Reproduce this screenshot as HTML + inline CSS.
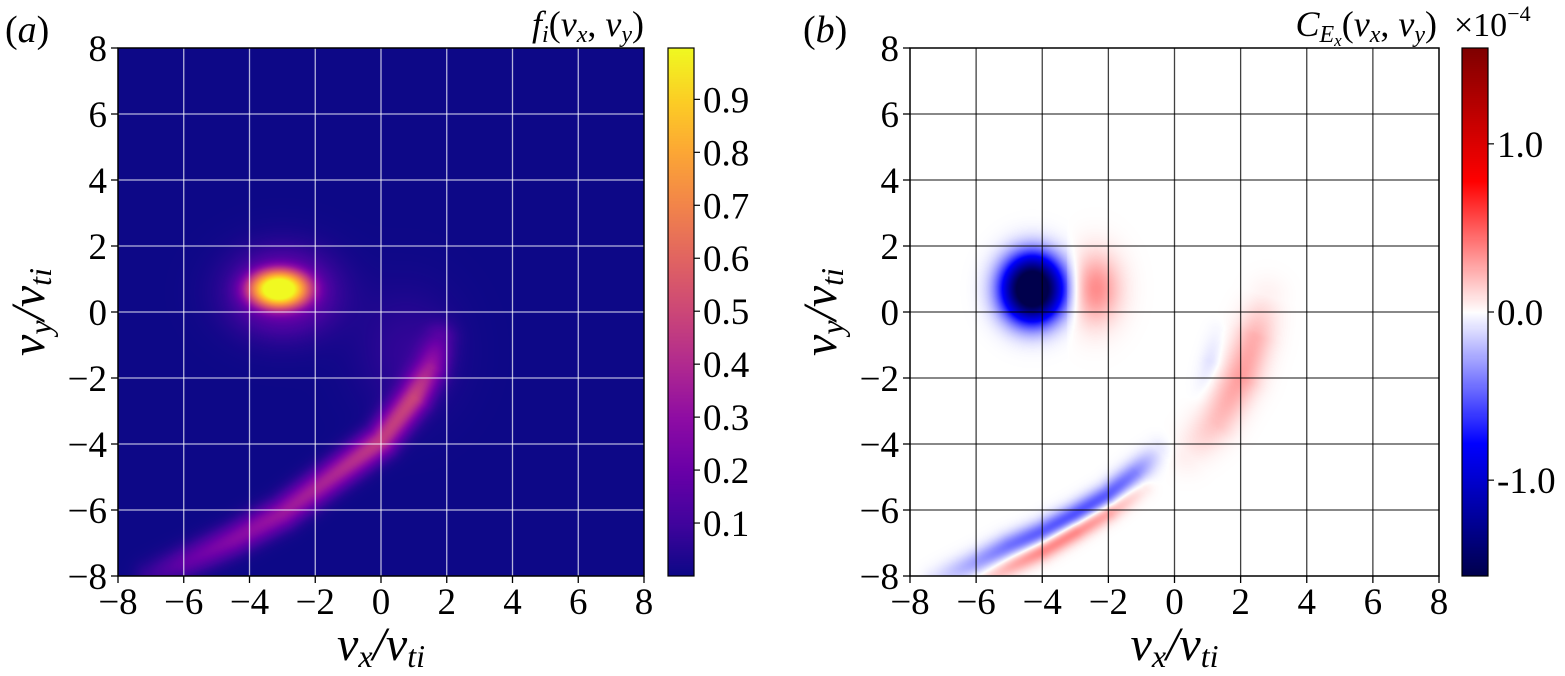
<!DOCTYPE html>
<html><head><meta charset="utf-8">
<style>
html,body{margin:0;padding:0;background:#fff;width:1565px;height:676px;overflow:hidden}
#wrap{position:relative;width:1565px;height:676px}
canvas{position:absolute}
svg{position:absolute;left:0;top:0}
text{font-family:"Liberation Serif",serif;fill:#000}
</style></head><body>
<div id="wrap">
<canvas id="ca" width="526" height="528" style="left:118px;top:48px"></canvas>
<canvas id="cb" width="529" height="528" style="left:910px;top:48px"></canvas>
<canvas id="cba" width="26" height="528" style="left:668px;top:48px"></canvas>
<canvas id="cbb" width="26" height="528" style="left:1462px;top:48px"></canvas>
<svg id="ov" width="1565" height="676"></svg>
</div>
<script>
// ---- data ----
const ticksXY = [-8,-6,-4,-2,0,2,4,6,8];
const cbTicksA = [0.1,0.2,0.3,0.4,0.5,0.6,0.7,0.8,0.9];
const cbTicksB = [1.0,0.0,-1.0];
const cbTickLabelsB = ["1.0","0.0","-1.0"];
// panel a blobs: [cx, cy, sx, sy, amp, power]
const blobsA = [[-3.1,0.7,1.0,0.62,0.7,1.6],[-3.15,0.7,0.55,0.35,0.2,1.0],[-3.0,0.6,1.5,1.2,0.28,1.0],[0.8,-1.2,1.5,1.8,0.07,1.0]];
// panel a arc vertices and amplitudes
const arcAx = [1.8,1.5,1.0,0.0,-1.5,-3.0,-4.5,-6.0,-7.0];
const arcAy = [-0.8,-1.7,-2.6,-3.9,-5.0,-6.1,-6.9,-7.6,-8.0];
const arcAv = [0.12,0.3,0.45,0.45,0.38,0.33,0.27,0.18,0.09];
// panel b blobs
const blobsB = [[-4.3,0.7,0.95,1.05,-1.9,1.2],[-2.4,0.7,0.75,1.05,0.36,1.0]];
const arcRx = [2.8,2.4,2.0,1.3,0.4];
const arcRy = [0.5,-0.8,-2.0,-3.3,-4.3];
const arcRv = [0.04,0.25,0.3,0.2,0.05];
const arcBlx = [1.3,1.1,0.8];
const arcBly = [-0.6,-1.5,-2.5];
const arcBlv = [-0.03,-0.1,-0.03];
const arcB2x = [-0.5,-1.2,-2.0,-3.0,-4.0,-5.0,-6.0,-7.2];
const arcB2y = [-4.2,-4.9,-5.6,-6.2,-6.7,-7.1,-7.6,-8.1];
const arcB2v = [-0.08,-0.4,-0.6,-0.65,-0.55,-0.45,-0.3,-0.1];
const arcR2x = [-1.0,-2.0,-3.0,-4.0,-5.0,-5.8];
const arcR2y = [-5.3,-6.0,-6.6,-7.2,-7.7,-8.1];
const arcR2v = [0.12,0.45,0.55,0.45,0.28,0.12];

const A = {x0:118,x1:644,y0:48,y1:576};
const B = {x0:910,x1:1439,y0:48,y1:576};
const sx=(p,v)=>p.x0+(v+8)/16*(p.x1-p.x0);
const sy=(p,v)=>p.y1-(v+8)/16*(p.y1-p.y0);

function blobVal(bl,x,y){let s=0;for(const b of bl){const r2=((x-b[0])/b[2])**2+((y-b[1])/b[3])**2;s+=b[4]*Math.exp(-Math.pow(r2,b[5]));}return s;}
function arcVal(xs,ys,vs,w,x,y){let best=0;for(let i=0;i<xs.length-1;i++){const ax=xs[i],ay=ys[i],bx=xs[i+1],by=ys[i+1];const dx=bx-ax,dy=by-ay;let t=((x-ax)*dx+(y-ay)*dy)/(dx*dx+dy*dy);t=Math.max(0,Math.min(1,t));const px=ax+t*dx,py=ay+t*dy;const d2=(x-px)**2+(y-py)**2;const a=vs[i]+(vs[i+1]-vs[i])*t;const v=a*Math.exp(-d2/(2*w*w));if(Math.abs(v)>Math.abs(best))best=v;}return best;}

const plasma=[[13,8,135],[65,4,157],[106,0,168],[143,13,164],[177,42,144],[204,71,120],[225,100,98],[242,132,75],[252,166,54],[252,206,37],[240,249,33]];
const seismic=[[0,0,76],[0,0,255],[255,255,255],[255,0,0],[128,0,0]];
function cmap(st,t){t=Math.max(0,Math.min(1,t));const n=st.length-1;const i=Math.min(n-1,Math.floor(t*n));const f=t*n-i;const a=st[i],b=st[i+1];return [a[0]+(b[0]-a[0])*f,a[1]+(b[1]-a[1])*f,a[2]+(b[2]-a[2])*f];}

function paint(id,p,fn,st,lo,hi){const c=document.getElementById(id);const g=c.getContext('2d');const W=c.width,H=c.height;const im=g.createImageData(W,H);for(let j=0;j<H;j++){const y=8-(j+0.5)/H*16;for(let i=0;i<W;i++){const x=-8+(i+0.5)/W*16;const v=fn(x,y);const col=cmap(st,(v-lo)/(hi-lo));const k=(j*W+i)*4;im.data[k]=col[0];im.data[k+1]=col[1];im.data[k+2]=col[2];im.data[k+3]=255;}}g.putImageData(im,0,0);}
paint('ca',A,(x,y)=>Math.min(1,0.003+blobVal(blobsA,x,y)+arcVal(arcAx,arcAy,arcAv,0.33,x,y)),plasma,0.003,0.999);
paint('cb',B,(x,y)=>{let v=blobVal(blobsB.slice(0,1),x,y);if(x>-3.25)v+=blobVal(blobsB.slice(1),x,y);v+=arcVal(arcRx,arcRy,arcRv,0.42,x,y)+arcVal(arcBlx,arcBly,arcBlv,0.22,x,y)+arcVal(arcB2x,arcB2y,arcB2v,0.26,x,y)+arcVal(arcR2x,arcR2y,arcR2v,0.22,x,y);return v;},seismic,-1.57,1.57);
function bar(id,st){const c=document.getElementById(id);const g=c.getContext('2d');for(let j=0;j<c.height;j++){const col=cmap(st,1-j/c.height);g.fillStyle=`rgb(${col[0]|0},${col[1]|0},${col[2]|0})`;g.fillRect(0,j,c.width,1);}}
bar('cba',plasma);bar('cbb',seismic);

const NS='http://www.w3.org/2000/svg';const ov=document.getElementById('ov');
function el(tag,at,txt){const e=document.createElementNS(NS,tag);for(const k in at)e.setAttribute(k,at[k]);if(txt!==undefined)e.innerHTML=txt;ov.appendChild(e);return e;}
function panel(p,gridCol,gridW,tag){
  ticksXY.forEach(v=>{
    if(v>-8&&v<8){
      const gx=el('line',{x1:sx(p,v),x2:sx(p,v),y1:p.y0,y2:p.y1,stroke:gridCol,'stroke-width':gridW});
      
      const gy=el('line',{x1:p.x0,x2:p.x1,y1:sy(p,v),y2:sy(p,v),stroke:gridCol,'stroke-width':gridW});
      
    }
    const lab=(v<0?'\u2212':'')+Math.abs(v);
    el('line',{x1:sx(p,v),x2:sx(p,v),y1:p.y1,y2:p.y1+7,stroke:'#000','stroke-width':1.3});
    const tx=el('text',{x:sx(p,v),y:p.y1+38,'font-size':37,'text-anchor':'middle'},lab);
    
    el('line',{x1:p.x0-7,x2:p.x0,y1:sy(p,v),y2:sy(p,v),stroke:'#000','stroke-width':1.3});
    const ty=el('text',{x:p.x0-11,y:sy(p,v)+13,'font-size':37,'text-anchor':'end'},lab);
    
  });
  const fr=el('rect',{x:p.x0,y:p.y0,width:p.x1-p.x0,height:p.y1-p.y0,fill:'none',stroke:'#000','stroke-width':1.5});
  
  const xl=el('text',{x:(p.x0+p.x1)/2,y:660,'font-size':48,'font-style':'italic','text-anchor':'middle'},'v<tspan font-size="32" dy="7">x</tspan><tspan dy="-7">/v</tspan><tspan font-size="32" dy="7">ti</tspan>');
  
  const yl=el('text',{x:0,y:0,'font-size':48,'font-style':'italic','text-anchor':'middle',transform:`translate(${p.x0-74},${(p.y0+p.y1)/2}) rotate(-90)`},'v<tspan font-size="32" dy="7">y</tspan><tspan dy="-7">/v</tspan><tspan font-size="32" dy="7">ti</tspan>');
  
}
panel(A,'rgba(255,255,255,0.7)',1.3,'panel-a');
panel(B,'rgba(0,0,0,0.75)',1.3,'panel-b');
el('rect',{x:668,y:48,width:26,height:528,fill:'none',stroke:'#000','stroke-width':1.2});
cbTicksA.forEach(v=>{const y=576-v/0.997*528;el('line',{x1:694,x2:700,y1:y,y2:y,stroke:'#000','stroke-width':1.2});
 const t=el('text',{x:703,y:y+13,'font-size':37},v.toFixed(1));});
el('rect',{x:1462,y:48,width:26,height:528,fill:'none',stroke:'#000','stroke-width':1.2});
cbTicksB.forEach((v,i)=>{const y=312-v/1.57*264;el('line',{x1:1488,x2:1494,y1:y,y2:y,stroke:'#000','stroke-width':1.2});
 const t=el('text',{x:1497,y:y+13,'font-size':37},cbTickLabelsB[i]);});
</script>
<svg width="1565" height="676" style="position:absolute;left:0;top:0;pointer-events:none">
<text x="5" y="42" font-size="38" font-family="Liberation Serif">(<tspan font-style="italic">a</tspan>)</text>
<text x="803" y="42" font-size="38" font-family="Liberation Serif">(<tspan font-style="italic">b</tspan>)</text>
<text x="644" y="36" font-size="36" font-family="Liberation Serif" text-anchor="end"><tspan font-style="italic">f</tspan><tspan font-size="24" dy="6" font-style="italic">i</tspan><tspan dy="-6">(</tspan><tspan font-style="italic">v</tspan><tspan font-size="24" dy="6" font-style="italic">x</tspan><tspan dy="-6">, </tspan><tspan font-style="italic">v</tspan><tspan font-size="24" dy="6" font-style="italic">y</tspan><tspan dy="-6">)</tspan></text>
<text x="1437" y="36" font-size="36" font-family="Liberation Serif" text-anchor="end"><tspan font-style="italic">C</tspan><tspan font-size="24" dy="6" font-style="italic">E</tspan><tspan font-size="17" dy="4" font-style="italic">x</tspan><tspan dy="-10">(</tspan><tspan font-style="italic">v</tspan><tspan font-size="24" dy="6" font-style="italic">x</tspan><tspan dy="-6">, </tspan><tspan font-style="italic">v</tspan><tspan font-size="24" dy="6" font-style="italic">y</tspan><tspan dy="-6">)</tspan></text>
<text x="1454" y="36" font-size="34" font-family="Liberation Serif">×10<tspan font-size="22" dy="-15">−4</tspan></text>
</svg>
</body></html>
